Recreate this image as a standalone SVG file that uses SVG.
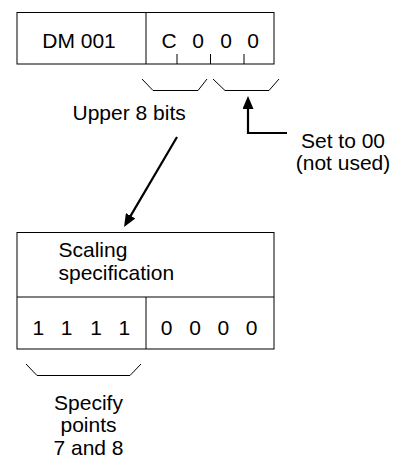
<svg xmlns="http://www.w3.org/2000/svg" width="396" height="459" viewBox="0 0 396 459">
<style>
text{font-family:"Liberation Sans",Arial,Helvetica,sans-serif;font-size:21px;fill:#000}
.box{fill:#fff;stroke:#000;stroke-width:1}
.thin{fill:none;stroke:#000;stroke-width:1}
.arr{fill:none;stroke:#000;stroke-width:2.2}
.mid{text-anchor:middle}
</style>
<defs>
<marker id="ah" markerUnits="userSpaceOnUse" viewBox="0 0 13 11" refX="5" refY="5.5" markerWidth="13" markerHeight="11" orient="auto">
<path d="M0,0 L13,5.5 L0,11 z" fill="#000"/>
</marker>
</defs>
<g id="dm001">
<rect class="box" x="17" y="12.5" width="257" height="51.5"/>
<line class="thin" x1="146" y1="12.5" x2="146" y2="64"/>
<line class="thin" x1="177" y1="54" x2="177" y2="64"/>
<line class="thin" x1="210.5" y1="54" x2="210.5" y2="64"/>
<line class="thin" x1="244" y1="54" x2="244" y2="64"/>
<text x="79" y="48" class="mid">DM 001</text>
<text x="169 198 226 253" y="48" class="mid">C000</text>
</g>
<g id="brace-upper">
<polyline class="thin" points="142,79 153,90.5 198,90.5 207,79"/>
<text x="72.5" y="120">Upper 8 bits</text>
</g>
<g id="brace-lower">
<polyline class="thin" points="213,79 225,90.5 269,90.5 279,79"/>
</g>
<g id="note-unused">
<text x="343" y="148" class="mid">Set to 00</text>
<text x="343" y="170" class="mid">(not used)</text>
</g>
<g id="scaling">
<rect class="box" x="17" y="232.5" width="257" height="116.5"/>
<line class="thin" x1="17" y1="297" x2="274" y2="297"/>
<line class="thin" x1="146" y1="297" x2="146" y2="349"/>
<text x="58.5" y="256.5">Scaling</text>
<text x="58.5" y="280">specification</text>
<text x="38.3 66.7 96 124.3" y="335" class="mid">1111</text>
<text x="166.7 195 223.3 251.7" y="335" class="mid">0000</text>
</g>
<g id="brace-points">
<polyline class="thin" points="26,364 37,375.5 130,375.5 141,364"/>
<text x="88.5" y="410" class="mid">Specify</text>
<text x="88.5" y="432" class="mid">points</text>
<text x="88.5" y="455" class="mid">7 and 8</text>
</g>
<g id="connectors">
<polyline class="arr" points="287,133 248,133 248,104" marker-end="url(#ah)"/>
<line class="arr" x1="177" y1="137" x2="128.1" y2="220.1" marker-end="url(#ah)"/>
</g>
</svg>
